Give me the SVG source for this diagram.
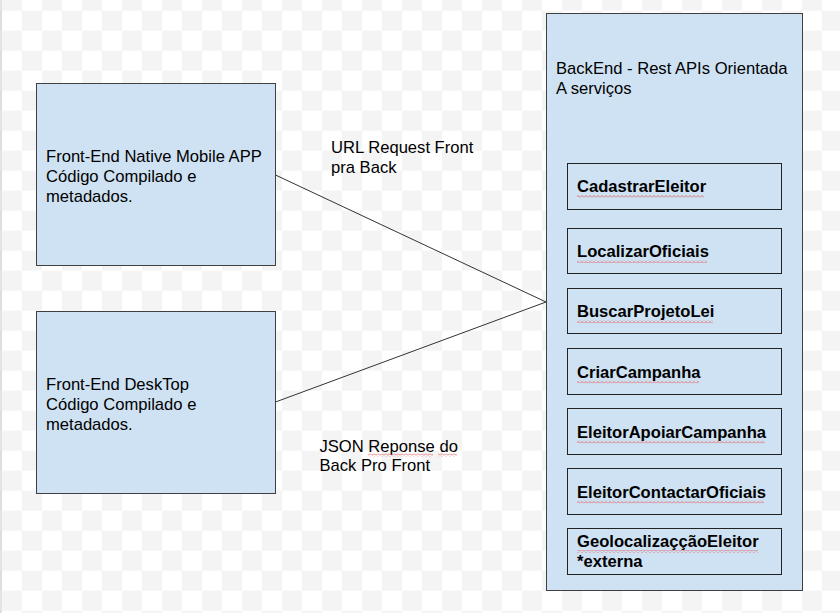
<svg xmlns="http://www.w3.org/2000/svg" width="840" height="613" viewBox="0 0 840 613">
  <defs>
    <pattern id="checker" patternUnits="userSpaceOnUse" x="2" y="10.67" width="40" height="40">
      <rect width="40" height="40" fill="#ffffff"/>
      <rect x="20" y="0" width="20" height="20" fill="#f4f4f4"/>
      <rect x="0" y="20" width="20" height="20" fill="#f4f4f4"/>
    </pattern>
    <pattern id="squiggle" patternUnits="userSpaceOnUse" x="0" y="0" width="4" height="3">
      <path d="M0 2.5 L2 0.5 L4 2.5" fill="none" stroke="#e06666" stroke-width="0.9"/>
    </pattern>
    <style>
      .box { fill: #cfe2f3; stroke: #404040; stroke-width: 1; }
      .svc { fill: #cfe2f3; stroke: #222; stroke-width: 1; }
      .txt { font-family: "Liberation Sans", Arial, sans-serif; font-size: 16.6px; fill: #000; }
      .bold { font-weight: bold; }
      .conn { stroke: #333; stroke-width: 1; fill: none; }
      .sq { fill: url(#squiggle); }
    </style>
  </defs>

  <rect x="0" y="0" width="840" height="613" fill="url(#checker)"/>
  <line x1="1" y1="0" x2="1" y2="613" stroke="#c8c8c8" stroke-width="1"/>

  <g id="connectors">
    <line class="conn" x1="275.5" y1="175" x2="546" y2="302"/>
    <line class="conn" x1="275.5" y1="402" x2="546" y2="302"/>
  </g>

  <g id="frontend-mobile">
    <rect class="box" x="36.5" y="83.5" width="239" height="182"/>
    <text class="txt" x="46" y="161.5">Front-End Native Mobile APP</text>
    <text class="txt" x="46" y="181.5">Código Compilado e</text>
    <text class="txt" x="46" y="201.5">metadados.</text>
  </g>

  <g id="frontend-desktop">
    <rect class="box" x="36.5" y="311.5" width="239" height="182"/>
    <text class="txt" x="46" y="389.5">Front-End DeskTop</text>
    <text class="txt" x="46" y="409.5">Código Compilado e</text>
    <text class="txt" x="46" y="429.5">metadados.</text>
  </g>

  <g id="label-request">
    <text class="txt" x="331" y="153">URL Request Front</text>
    <text class="txt" x="331" y="173">pra Back</text>
  </g>

  <g id="label-response">
    <text class="txt" x="319.5" y="451.5">JSON Reponse do</text>
    <text class="txt" x="319.5" y="471">Back Pro Front</text>
    <rect class="sq" x="368" y="453.5" width="65" height="3"/>
    <rect class="sq" x="438" y="453.5" width="19" height="3"/>
  </g>

  <g id="backend">
    <rect class="box" x="546.5" y="13.5" width="256" height="577"/>
    <text class="txt" x="556" y="74">BackEnd - Rest APIs Orientada</text>
    <text class="txt" x="556" y="94">A serviços</text>
  </g>

  <g id="svc-cadastrar">
    <rect class="svc" x="567.5" y="163.5" width="214" height="46"/>
    <text class="txt bold" x="577" y="192">CadastrarEleitor</text>
    <rect class="sq" x="577" y="195" width="127" height="3"/>
  </g>
  <g id="svc-localizar">
    <rect class="svc" x="567.5" y="228.5" width="214" height="45"/>
    <text class="txt bold" x="577" y="257">LocalizarOficiais</text>
    <rect class="sq" x="577" y="260" width="130" height="3"/>
  </g>
  <g id="svc-buscar">
    <rect class="svc" x="567.5" y="288.5" width="214" height="45"/>
    <text class="txt bold" x="577" y="317">BuscarProjetoLei</text>
    <rect class="sq" x="577" y="320" width="136" height="3"/>
  </g>
  <g id="svc-criar">
    <rect class="svc" x="567.5" y="348.5" width="214" height="46"/>
    <text class="txt bold" x="577" y="377.5">CriarCampanha</text>
    <rect class="sq" x="577" y="380.5" width="122" height="3"/>
  </g>
  <g id="svc-apoiar">
    <rect class="svc" x="567.5" y="408.5" width="214" height="46"/>
    <text class="txt bold" x="577" y="437.5">EleitorApoiarCampanha</text>
    <rect class="sq" x="577" y="440.5" width="188" height="3"/>
  </g>
  <g id="svc-contactar">
    <rect class="svc" x="567.5" y="468.5" width="214" height="46"/>
    <text class="txt bold" x="577" y="497.5">EleitorContactarOficiais</text>
    <rect class="sq" x="577" y="500.5" width="187" height="3"/>
  </g>
  <g id="svc-geolocalizacao">
    <rect class="svc" x="567.5" y="528.5" width="214" height="46"/>
    <text class="txt bold" x="577" y="547">GeolocalizaççãoEleitor</text>
    <text class="txt bold" x="577" y="567">*externa</text>
    <rect class="sq" x="577" y="550" width="181" height="3"/>
  </g>
</svg>
